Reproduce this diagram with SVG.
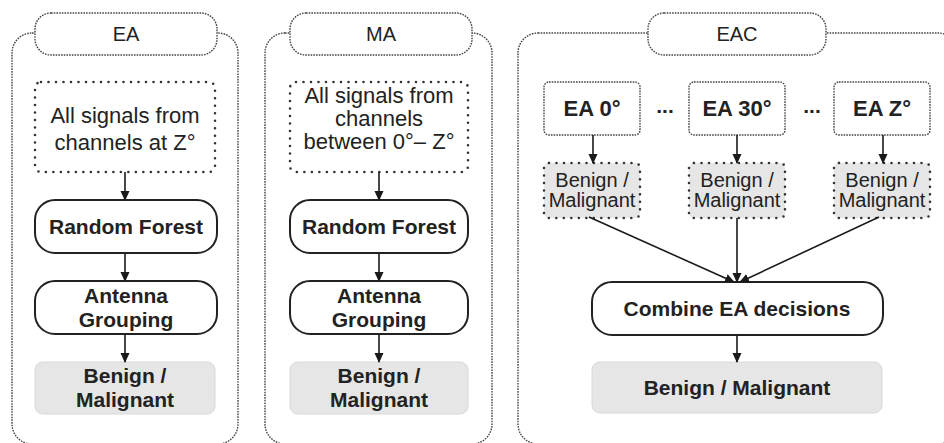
<svg xmlns="http://www.w3.org/2000/svg" width="944" height="443" viewBox="0 0 944 443">
  <defs>
    <marker id="arrow" markerWidth="10" markerHeight="10" refX="9" refY="5" orient="auto" markerUnits="userSpaceOnUse">
      <path d="M0,0.5 L10,5 L0,9.5 Z" fill="#1a1a1a"/>
    </marker>
    <style>
      text { font-family: "Liberation Sans", Arial, sans-serif; fill: #222; text-anchor: middle; }
      .title { font-size: 20px; }
      .plain { font-size: 22px; }
      .small { font-size: 20px; }
      .bold { font-size: 21px; font-weight: bold; }
      .ea { font-size: 22px; font-weight: bold; }
      .frame { fill: none; stroke: #444; stroke-width: 1.4; stroke-dasharray: 1.6 1.1; }
      .pill { fill: #fff; stroke: #444; stroke-width: 1.4; stroke-dasharray: 1.6 1.1; }
      .dots { fill: #fff; stroke: #333; stroke-width: 2.6; stroke-dasharray: 0 7.5; stroke-linecap: round; }
      .dotsgray { fill: #e6e6e6; stroke: #333; stroke-width: 2.6; stroke-dasharray: 0 7.5; stroke-linecap: round; }
      .fine { fill: #fff; stroke: #444; stroke-width: 1.4; stroke-dasharray: 1.6 1.1; }
      .step { fill: #fff; stroke: #222; stroke-width: 2; }
      .result { fill: #e6e6e6; stroke: #d8d8d8; stroke-width: 1; }
      .conn { fill: none; stroke: #1a1a1a; stroke-width: 1.6; marker-end: url(#arrow); }
    </style>
  </defs>

  <!-- EA panel -->
  <g id="panel-ea">
    <rect class="frame" x="12" y="33" width="226" height="411" rx="20"/>
    <rect class="pill" x="35" y="13" width="182" height="42" rx="16"/>
    <text class="title" x="126" y="41">EA</text>
  </g>
  <g id="ea-input">
    <rect class="dots" x="35" y="82" width="180" height="90" rx="6"/>
    <text class="plain" x="125" y="123">All signals from</text>
    <text class="plain" x="125" y="150">channels at Z°</text>
  </g>
  <g id="ea-rf">
    <rect class="step" x="35" y="200" width="182" height="53" rx="20"/>
    <text class="bold" x="126" y="234">Random Forest</text>
  </g>
  <g id="ea-group">
    <rect class="step" x="35" y="281" width="182" height="53" rx="20"/>
    <text class="bold" x="126" y="303">Antenna</text>
    <text class="bold" x="126" y="327">Grouping</text>
  </g>
  <g id="ea-out">
    <rect class="result" x="35" y="362" width="180" height="52" rx="8"/>
    <text class="bold" x="125" y="383">Benign /</text>
    <text class="bold" x="125" y="407">Malignant</text>
  </g>

  <!-- MA panel -->
  <g id="panel-ma">
    <rect class="frame" x="265" y="33" width="227" height="411" rx="20"/>
    <rect class="pill" x="290" y="13" width="182" height="42" rx="16"/>
    <text class="title" x="381" y="41">MA</text>
  </g>
  <g id="ma-input">
    <rect class="dots" x="290" y="82" width="178" height="90" rx="6"/>
    <text class="plain" x="379" y="103">All signals from</text>
    <text class="plain" x="379" y="126">channels</text>
    <text class="plain" x="379" y="149">between 0°– Z°</text>
  </g>
  <g id="ma-rf">
    <rect class="step" x="290" y="200" width="178" height="53" rx="20"/>
    <text class="bold" x="379" y="234">Random Forest</text>
  </g>
  <g id="ma-group">
    <rect class="step" x="290" y="281" width="178" height="53" rx="20"/>
    <text class="bold" x="379" y="303">Antenna</text>
    <text class="bold" x="379" y="327">Grouping</text>
  </g>
  <g id="ma-out">
    <rect class="result" x="290" y="362" width="178" height="52" rx="8"/>
    <text class="bold" x="379" y="383">Benign /</text>
    <text class="bold" x="379" y="407">Malignant</text>
  </g>

  <!-- EAC panel -->
  <g id="panel-eac">
    <rect class="frame" x="518" y="33" width="440" height="411" rx="20"/>
    <rect class="pill" x="648" y="13" width="178" height="42" rx="16"/>
    <text class="title" x="737" y="41">EAC</text>
  </g>
  <g id="eac-0">
    <rect class="fine" x="544" y="82" width="96" height="53" rx="5"/>
    <text class="ea" x="592" y="116">EA 0°</text>
  </g>
  <g id="eac-30">
    <rect class="fine" x="689" y="82" width="96" height="53" rx="5"/>
    <text class="ea" x="737" y="116">EA 30°</text>
  </g>
  <g id="eac-z">
    <rect class="fine" x="834" y="82" width="96" height="53" rx="5"/>
    <text class="ea" x="882" y="116">EA Z°</text>
  </g>
  <g id="eac-ellipsis">
    <text class="bold" x="665" y="113">...</text>
    <text class="bold" x="812" y="113">...</text>
  </g>
  <g id="eac-0-out">
    <rect class="dotsgray" x="544" y="163" width="96" height="55" rx="5"/>
    <text class="small" x="592" y="187">Benign /</text>
    <text class="small" x="592" y="207">Malignant</text>
  </g>
  <g id="eac-30-out">
    <rect class="dotsgray" x="689" y="163" width="96" height="55" rx="5"/>
    <text class="small" x="737" y="187">Benign /</text>
    <text class="small" x="737" y="207">Malignant</text>
  </g>
  <g id="eac-z-out">
    <rect class="dotsgray" x="834" y="163" width="96" height="55" rx="5"/>
    <text class="small" x="882" y="187">Benign /</text>
    <text class="small" x="882" y="207">Malignant</text>
  </g>
  <g id="eac-combine">
    <rect class="step" x="592" y="282" width="291" height="53" rx="20"/>
    <text class="bold" x="737" y="316">Combine EA decisions</text>
  </g>
  <g id="eac-out">
    <rect class="result" x="592" y="362" width="290" height="51" rx="8"/>
    <text class="bold" x="737" y="395">Benign / Malignant</text>
  </g>

  <!-- connectors -->
  <g id="connectors">
    <line class="conn" x1="125" y1="172" x2="125" y2="200"/>
    <line class="conn" x1="125" y1="253" x2="125" y2="281"/>
    <line class="conn" x1="125" y1="334" x2="125" y2="362"/>
    <line class="conn" x1="379" y1="172" x2="379" y2="200"/>
    <line class="conn" x1="379" y1="253" x2="379" y2="281"/>
    <line class="conn" x1="379" y1="334" x2="379" y2="362"/>
    <line class="conn" x1="593" y1="135" x2="593" y2="163"/>
    <line class="conn" x1="737" y1="135" x2="737" y2="163"/>
    <line class="conn" x1="883" y1="135" x2="883" y2="163"/>
    <line class="conn" x1="589" y1="217" x2="734" y2="282"/>
    <line class="conn" x1="737" y1="218" x2="737" y2="282"/>
    <line class="conn" x1="879" y1="217" x2="740" y2="282"/>
    <line class="conn" x1="737" y1="335" x2="737" y2="362"/>
  </g>
</svg>
